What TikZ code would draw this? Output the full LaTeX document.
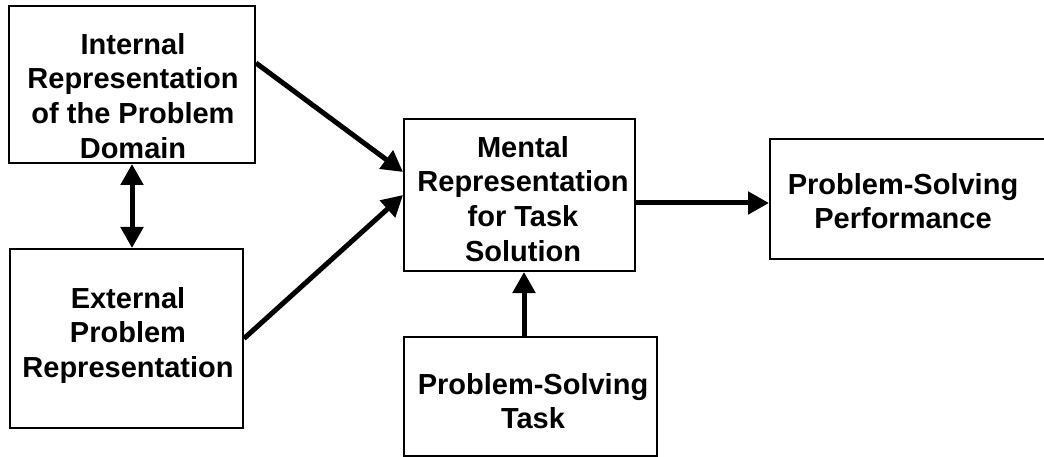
\documentclass[tikz,border=0pt]{standalone}
\usepackage{fontspec}
\setmainfont{Liberation Sans}
\usetikzlibrary{arrows.meta}
\begin{document}
\begin{tikzpicture}[x=1pt,y=-1pt,
  box/.style={draw=black,line width=2pt,inner sep=0pt,rectangle},
  lbl/.style={anchor=north,inner sep=0pt,align=center,
    font=\fontsize{29}{34.7}\selectfont\bfseries},
  tip/.tip={Triangle[length=21pt,width=22pt]},
  arr/.style={line width=5pt,-tip},
  dbl/.style={line width=5pt,tip-tip}]
\useasboundingbox (0,0) rectangle (1044,457);
\clip (0,0) rectangle (1044,457);
% boxes
\node[box,minimum width=246pt,minimum height=157pt] (b1) at (132,84.5) {};
\node[box,minimum width=233pt,minimum height=179pt] (b2) at (126.5,338.5) {};
\node[box,minimum width=231pt,minimum height=152pt] (b3) at (519.5,195) {};
\node[box,minimum width=290pt,minimum height=120pt] (b4) at (915,199) {};
\node[box,minimum width=253pt,minimum height=119pt] (b5) at (530.5,396.5) {};
% texts
\node[lbl] (t1) at (133,33) {Internal\\Representation\\of the Problem\\Domain};
\node[lbl] (t2) at (128,287) {External\\Problem\\Representation};
\node[lbl] (t3) at (523,136) {Mental\\Representation\\for Task\\Solution};
\node[lbl] (t4) at (903,173) {Problem-Solving\\Performance};
\node[lbl] (t5) at (533,373) {Problem-Solving\\Task};
% connectors
\draw[arr] ([yshift=21.5pt]b1.east) -- ([yshift=23pt]b3.west);
\draw[arr] (b2.east) -- (b3.west);
\draw[dbl] (b1.south) -- (b1.south |- b2.north);
\draw[arr] ([yshift=-8pt]b3.east) -- ([yshift=-8pt]b3.east -| b4.west);
\draw[arr] ([xshift=4.5pt]b3.south |- b5.north) -- ([xshift=4.5pt]b3.south);
\end{tikzpicture}
\end{document}
